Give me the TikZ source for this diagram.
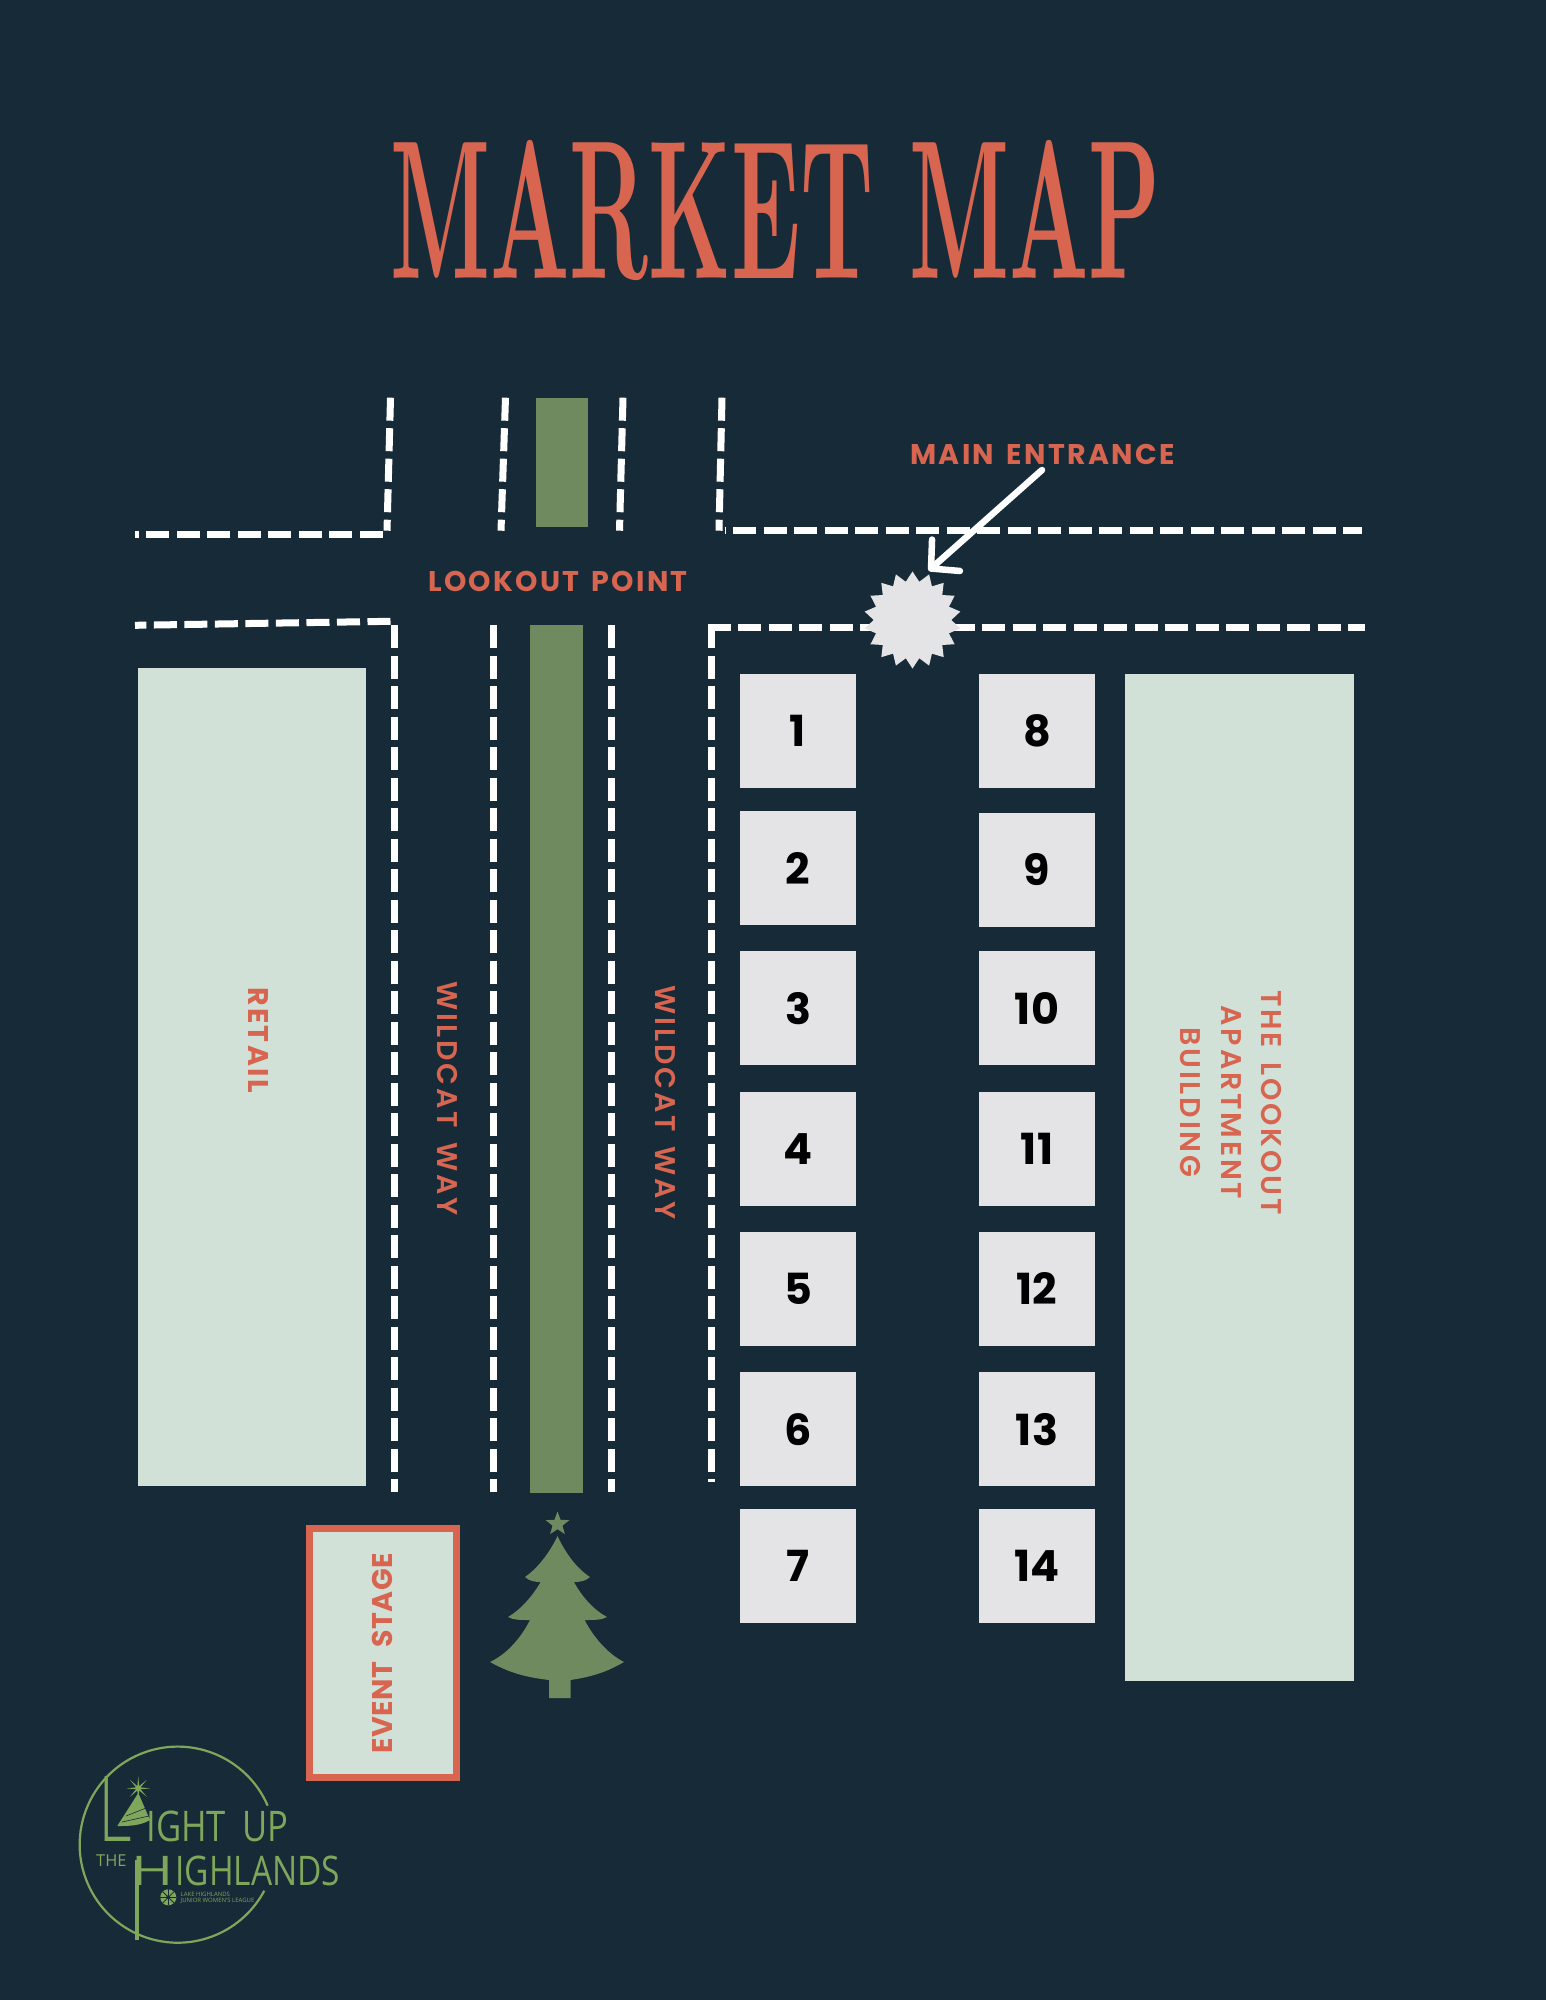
\documentclass[tikz,border=0pt]{standalone}
\usepackage{fontspec}
\usepackage{graphicx}
\usetikzlibrary{arrows.meta,shapes.geometric}
\newfontfamily\signfont{Poppins}[UprightFont=* SemiBold,LetterSpace=10,WordSpace=1.5]
\newfontfamily\signbold{Poppins}[UprightFont=* Bold,LetterSpace=8,WordSpace=1.5]
\newfontfamily\stagefont{Poppins}[UprightFont=* Bold,LetterSpace=1.5,WordSpace=2.2]
\newfontfamily\numfont{Poppins}[UprightFont=* Bold]
\newfontfamily\logofont{Open Sans}
\newfontfamily\logothin{Open Sans}[UprightFont=* Light]
\definecolor{bgnavy}{HTML}{172A38}
\definecolor{signred}{HTML}{D76550}
\definecolor{palegreen}{HTML}{D2E1D8}
\definecolor{parkgreen}{HTML}{6E8A5E}
\definecolor{stallgrey}{HTML}{E4E4E6}
\definecolor{logogreen}{HTML}{7FA75B}
\begin{document}
\begin{tikzpicture}[x=0.01cm,y=-0.01cm,
  street/.style={white,line width=0.07cm,dash pattern=on 0.23cm off 0.075cm},
  block/.style={fill=#1,inner sep=0pt,outer sep=0pt},
  stall/.style={block=stallgrey,minimum width=1.16cm,minimum height=1.14cm,text=black,font=\numfont\fontsize{12.2}{14}\selectfont},
  sign/.style={text=signred,inner sep=0pt,font=\signfont\fontsize{8.1}{11.4}\selectfont},
  signheavy/.style={text=signred,inner sep=0pt,font=\signbold\fontsize{8.1}{11.4}\selectfont},
  logotext/.style={anchor=base west,inner sep=0pt,text=logogreen}]
  \fill[bgnavy] (0,0) rectangle (1546,2000);
  \node[inner sep=0pt,text=signred] (title) at (775.5,211) {\resizebox{7.70cm}{1.38cm}{\bfseries MARKET MAP}};

  \draw[street] (390.5,397.7)--(387,530.7);
  \draw[street] (383,534.7)--(135,534.7);
  \draw[street] (505.5,397.7)--(501,530.7);
  \draw[street] (623,397.7)--(619.5,530.7);
  \draw[street] (722,397.7)--(719,530.7);
  \draw[street,dash phase=0.22cm] (724.5,530.7)--(1362,530.7);
  \draw[street] (390.5,621.3)--(135,625.3);
  \draw[street] (394,625)--(394,1492);
  \draw[street] (493.7,625)--(493.7,1492);
  \draw[street] (611.5,625)--(611.5,1492);
  \draw[street] (711.4,625)--(711.4,1482);
  \draw[street] (707.5,627)--(1365,627);

  \node[block=parkgreen,minimum width=0.52cm,minimum height=1.287cm] (parktop) at (562,462.3) {};
  \node[block=parkgreen,minimum width=0.53cm,minimum height=8.675cm] (parklong) at (556.5,1058.7) {};
  \node[block=palegreen,minimum width=2.28cm,minimum height=8.18cm] (retail) at (252,1077) {};
  \node[block=palegreen,minimum width=2.282cm,minimum height=10.07cm] (lookout) at (1239.5,1177.5) {};
  \node[block=palegreen,draw=signred,line width=0.07cm,minimum width=1.47cm,minimum height=2.49cm] (stage) at (383,1653) {};

  \foreach \n/\yc in {1/730.8,2/868,3/1008.3,4/1148.8,5/1288.8,6/1429.3,7/1566}
    \node[stall] (stall\n) at (798,\yc) {\n};
  \foreach \n/\yc in {8/730.8,9/869.8,10/1008.3,11/1148.8,12/1288.8,13/1429.3,14/1566}
    \node[stall] (stall\n) at (1037,\yc) {\n};

  \node[signheavy,rotate=-90] (retaillabel) at (258.5,1040) {RETAIL};
  \node[sign,rotate=-90] (wayleft) at (447.5,1098.7) {WILDCAT WAY};
  \node[sign,rotate=-90] (wayright) at (665,1102.5) {WILDCAT WAY};
  \node[sign,rotate=-90,align=center] (lookoutlabel) at (1231,1102.5) {THE LOOKOUT\\APARTMENT\\BUILDING};
  \node[signheavy,rotate=90,font=\stagefont\fontsize{8.1}{11.4}\selectfont] (stagelabel) at (382.3,1653.3) {EVENT STAGE};
  \node[signheavy] (point) at (558,581.7) {LOOKOUT POINT};
  \node[signheavy] (entrance) at (1042.4,454) {MAIN ENTRANCE};

  \node[star,star points=18,star point ratio=1.25,fill=stallgrey,inner sep=0pt,minimum size=0.97cm] (burst) at (912.5,620) {};
  \coordinate (arrowtail) at (1042,470);
  \coordinate (arrowtip) at (928.6,570.7);
  \draw[white,line width=0.065cm,line cap=round,-{Straight Barb[round,length=0.2cm,width=0.42cm]}] (arrowtail)--(arrowtip);

  \node[star,star points=5,star point ratio=2.4,fill=parkgreen,inner sep=0pt,minimum size=0.25cm] (treestar) at (557.5,1524) {};
  \fill[parkgreen] (557.5,1536) .. controls (565,1552) and (576,1568) .. (590,1577)
    .. controls (586,1581) and (580,1582) .. (574,1582) .. controls (582,1597) and (594,1610) .. (607,1617)
    .. controls (602,1620) and (594,1620) .. (584.6,1620) .. controls (595,1640) and (610,1655) .. (624,1662)
    .. controls (605,1673) and (590,1677) .. (570.5,1680) -- (570.5,1698) -- (549,1698) -- (549,1680)
    .. controls (525,1677) and (510,1673) .. (490,1662) .. controls (505,1655) and (520,1640) .. (530,1620)
    .. controls (520,1620) and (513,1620) .. (508,1617) .. controls (520,1610) and (532,1597) .. (540.6,1582)
    .. controls (535,1582) and (529,1581) .. (525,1577) .. controls (538,1568) and (550,1552) .. (557.5,1536);

  \draw[logogreen,line width=0.022cm] (267.7,1805.7) arc[start angle=23.4,end angle=332,radius=0.98cm];
  \node[logotext] (logolight) at (98,1841.7)
    {\logothin\scalebox{0.72}[1]{\fontsize{25.9}{26}\selectfont L}\hspace{4pt}\logofont\scalebox{0.82}[1]{\fontsize{12}{12}\selectfont IGHT\hspace{2.5pt} UP}};
  \node[logotext] (logothe) at (95.5,1866.7) {\logofont\fontsize{4.66}{5}\selectfont THE};
  \node[logotext] (logohigh) at (130.5,1885)
    {\logofont\fontsize{11.6}{12}\selectfont\scalebox{1.4}[1]{H}\hspace{0.6pt}\scalebox{0.82}[1]{IGHLANDS}};
  \draw[logogreen,line width=0.04cm] (136.5,1860)--(136.5,1940);
  \node[logotext,align=left,font=\logofont\fontsize{1.7}{1.9}\selectfont] (logoleague) at (180,1902.7) {LAKE HIGHLANDS\\JUNIOR WOMEN'S LEAGUE};
  \fill[logogreen] (168.3,1897.3) circle (0.08cm);
  \foreach \a in {0,45,...,315}
    \draw[bgnavy,line width=0.008cm] (168.3,1897.3)--++(\a:8);
  \fill[bgnavy] (168.3,1897.3) circle (0.02cm);
  \fill[logogreen] (138.3,1793)--(150,1820) .. controls (140,1826) and (128,1826) .. (117.3,1826)--cycle;
  \foreach \xa/\ya/\xb/\yb in {126/1816/146/1808,122/1822/149/1816}
    \draw[bgnavy,line width=0.006cm] (\xa,\ya)--(\xb,\yb);
  \node[star,star points=8,star point ratio=5,fill=logogreen,inner sep=0pt,minimum size=0.24cm] (logostar) at (138.3,1788.3) {};
\end{tikzpicture}
\end{document}
